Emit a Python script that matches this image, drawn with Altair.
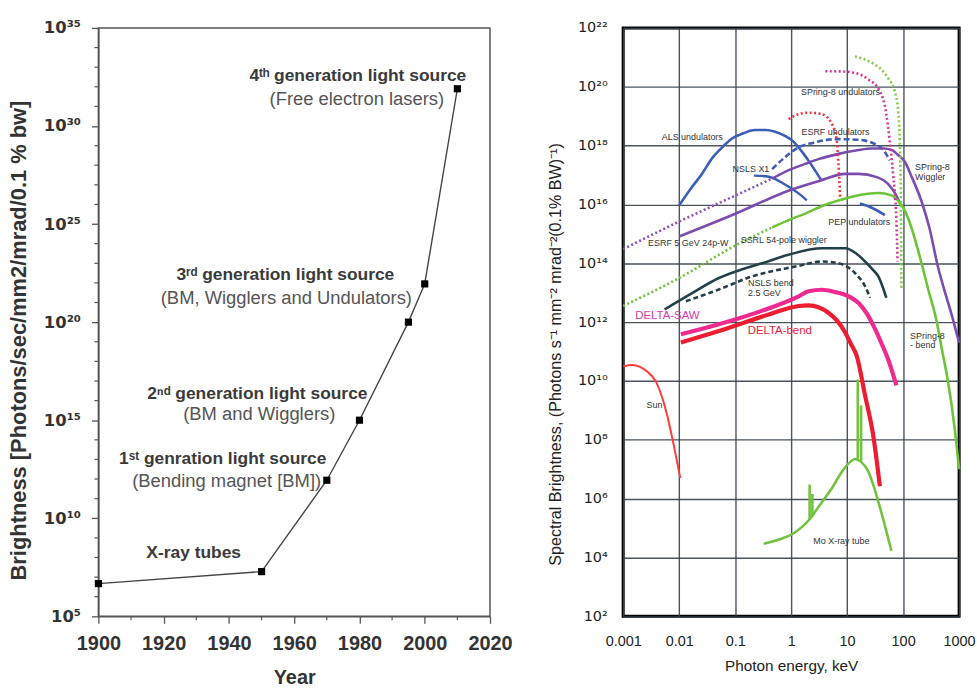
import math
import altair as alt
import pandas as pd

SUP = str.maketrans("0123456789-", "⁰¹²³⁴⁵⁶⁷⁸⁹⁻")

# ---------------- Left panel: brightness vs year ----------------
years = [1900, 1950, 1970, 1980, 1995, 2000, 2010]
brightness_log10 = [6.67, 7.28, 11.94, 15.0, 20.0, 21.95, 31.9]

left_x_ticks = [1900, 1920, 1940, 1960, 1980, 2000, 2020]
left_x_minor = [1910, 1930, 1950, 1970, 1990, 2010]
left_y_exps = [5, 10, 15, 20, 25, 30, 35]
left_y_minor_exps = [6, 7, 8, 9, 11, 12, 13, 14, 16, 17, 18, 19, 21, 22, 23, 24,
                     26, 27, 28, 29, 31, 32, 33, 34]

ann_text = ["4ᵗʰ generation light source", "(Free electron lasers)",
            "3ʳᵈ generation light source", "(BM, Wigglers and Undulators)",
            "2ⁿᵈ generation light source", "(BM and Wigglers)",
            "1ˢᵗ genration light source", "(Bending magnet [BM])",
            "X-ray tubes"]
ann_year = [1979.5, 1979.2, 1957.3, 1957.6, 1948.7, 1949.3, 1938.1, 1939.3, 1929.2]
ann_log10 = [32.57, 31.4, 22.38, 21.22, 16.35, 15.29, 13.0, 11.9, 8.24]
ann_bold = [True, False, True, False, True, False, True, False, True]

# ---------------- Right panel: spectral brightness ----------------
# (log10 photon energy [keV], log10 spectral brightness)
curves = {
    "ALS undulators": (
        [-2.0, -1.8, -1.6, -1.4, -1.2, -1.05, -0.85, -0.65, -0.45, -0.3, -0.1, 0.02, 0.2, 0.31, 0.54],
        [15.97, 16.52, 17.02, 17.6, 18.0, 18.25, 18.42, 18.53, 18.53, 18.48, 18.32, 18.17, 17.78, 17.49, 16.82]),
    "NSLS X1": (
        [-0.665, -0.45, -0.3, -0.15, 0.0, 0.15, 0.28],
        [16.98, 16.96, 16.88, 16.72, 16.55, 16.35, 16.14]),
    "Undulator dashed": (
        [-0.34, -0.1, 0.13, 0.4, 0.61, 0.85, 1.1, 1.32, 1.5, 1.65, 1.76],
        [17.2, 17.62, 17.94, 18.1, 18.19, 18.22, 18.21, 18.17, 18.05, 17.85, 17.5]),
    "PEP undulators": (
        [1.23, 1.45, 1.675],
        [16.03, 15.88, 15.64]),
    "SPring-8 wiggler (low E)": (
        [-3.0, -2.0, -1.0, -0.34],
        [14.48, 15.42, 16.3, 16.88]),
    "SPring-8 Wiggler": (
        [-0.34, 0.0, 0.25, 0.5, 0.85, 1.2, 1.44, 1.65, 1.8, 1.91, 2.03, 2.15, 2.33, 2.47, 2.62, 2.75, 2.86, 3.0],
        [16.88, 17.2, 17.38, 17.55, 17.72, 17.85, 17.9, 17.9, 17.85, 17.68, 17.45, 16.95, 16.1, 15.2, 13.9, 13.0, 12.3, 11.3]),
    "ESRF 5 GeV 24p-W": (
        [-2.0, -1.05, 0.0, 0.5, 0.97, 1.2, 1.53, 1.73, 1.85, 1.93],
        [14.91, 15.64, 16.5, 16.8, 17.04, 17.04, 16.93, 16.7, 16.4, 16.1]),
    "SPring-8 bend (low E)": (
        [-3.0, -2.0, -1.0, -0.34],
        [12.55, 13.5, 14.6, 15.22]),
    "SPring-8 bend": (
        [-0.34, 0.0, 0.25, 0.6, 0.97, 1.25, 1.55, 1.79, 1.92, 2.03, 2.15, 2.33, 2.45, 2.59, 2.7, 2.8, 2.92, 3.0],
        [15.22, 15.5, 15.69, 15.98, 16.2, 16.33, 16.39, 16.31, 16.1, 15.8, 15.2, 14.0, 13.1, 12.1, 11.0, 10.0, 8.4, 7.0]),
    "SPring-8 undulators (green)": (
        [1.14, 1.35, 1.5, 1.63, 1.73, 1.85, 1.91, 1.94, 1.96, 1.97],
        [21.03, 20.9, 20.75, 20.55, 20.3, 19.85, 19.2, 18.2, 16.0, 13.1]),
    "SPring-8 undulators": (
        [0.61, 0.9, 1.14, 1.38, 1.585, 1.7, 1.76, 1.82, 1.88, 1.9],
        [20.53, 20.52, 20.47, 20.25, 19.85, 19.07, 18.17, 17.04, 15.47, 14.06]),
    "ESRF undulators": (
        [-0.045, 0.1, 0.31, 0.55, 0.73, 0.815, 0.845, 0.875],
        [18.9, 19.05, 19.12, 19.07, 18.73, 18.17, 17.38, 16.26]),
    "SSRL 54-pole wiggler": (
        [-2.26, -1.8, -1.29, -0.9, -0.52, -0.05, 0.55, 0.97, 1.15, 1.32, 1.45, 1.555, 1.7],
        [12.43, 12.95, 13.5, 13.78, 14.0, 14.29, 14.51, 14.51, 14.35, 14.06, 13.8, 13.56, 12.83]),
    "NSLS bend 2.5 GeV": (
        [-1.88, -1.29, -0.69, 0.075, 0.55, 0.845, 1.14, 1.32, 1.41],
        [12.71, 13.11, 13.56, 13.89, 14.06, 14.0, 13.67, 13.22, 12.83]),
    "DELTA-SAW": (
        [-1.97, -1.29, -0.5, 0.135, 0.31, 0.55, 0.79, 1.0, 1.2, 1.35, 1.5, 1.62, 1.73, 1.88],
        [11.59, 11.93, 12.4, 12.88, 13.05, 13.1, 13.02, 12.9, 12.66, 12.3, 11.76, 11.25, 10.75, 9.85]),
    "DELTA-bend": (
        [-1.97, -1.29, -0.4, 0.135, 0.31, 0.5, 0.665, 0.82, 0.965, 1.07, 1.17, 1.32, 1.465, 1.585],
        [11.31, 11.7, 12.26, 12.55, 12.57, 12.5, 12.32, 12.05, 11.65, 11.25, 10.86, 9.51, 8.16, 6.42]),
    "Sun": (
        [-3.0, -2.83, -2.7, -2.59, -2.41, -2.3, -2.23, -2.085, -1.98],
        [10.5, 10.54, 10.48, 10.35, 9.96, 9.42, 8.95, 7.71, 6.7]),
    "Mo X-ray tube": (
        [-0.49, -0.2, 0.016, 0.2, 0.33, 0.5, 0.73, 0.9, 1.08, 1.14, 1.25, 1.38, 1.47, 1.555, 1.68, 1.79],
        [4.47, 4.62, 4.79, 5.05, 5.3, 5.75, 6.36, 6.9, 7.29, 7.35, 7.25, 6.92, 6.45, 5.91, 5.05, 4.23]),
}

# characteristic lines of the Mo tube (log10 E, log10 top, log10 bottom)
mo_line_log10E = [0.33, 0.38, 1.19, 1.25]
mo_line_top = [6.48, 6.16, 10.05, 9.17]
mo_line_bottom = [5.28, 5.4, 7.3, 7.28]

styles = {
    "ALS undulators": ("#3a5db5", 2.6, None),
    "NSLS X1": ("#3a5db5", 2.4, None),
    "Undulator dashed": ("#3a5db5", 2.6, [6, 3]),
    "PEP undulators": ("#3a5db5", 2.6, None),
    "SPring-8 wiggler (low E)": ("#8a4fc0", 2.6, [2, 2.5]),
    "SPring-8 Wiggler": ("#7b4cb0", 2.6, None),
    "ESRF 5 GeV 24p-W": ("#7b4cb0", 2.6, None),
    "SPring-8 bend (low E)": ("#6cc436", 2.6, [2, 2.5]),
    "SPring-8 bend": ("#6cc436", 2.6, None),
    "SPring-8 undulators (green)": ("#7ccc44", 2.6, [2, 2.5]),
    "SPring-8 undulators": ("#d8339c", 2.6, [2, 2.5]),
    "ESRF undulators": ("#f0323a", 2.6, [2, 2.5]),
    "SSRL 54-pole wiggler": ("#22404c", 2.6, None),
    "NSLS bend 2.5 GeV": ("#22404c", 2.6, [5, 3]),
    "DELTA-SAW": ("#ee2a8e", 4.2, None),
    "DELTA-bend": ("#ee1c30", 4.2, None),
    "Sun": ("#ff3b3b", 2.0, None),
    "Mo X-ray tube": ("#72c240", 2.6, None),
}

rlab_text = ["ALS undulators", "NSLS X1", "ESRF undulators", "SPring-8 undulators",
             "SPring-8", "Wiggler", "PEP undulators", "ESRF 5 GeV 24p-W",
             "SSRL 54-pole wiggler", "NSLS bend", "2.5 GeV", "DELTA-SAW", "DELTA-bend",
             "SPring-8", "- bend", "Sun", "Mo  X-ray tube"]
rlab_log10E = [-1.766, -0.718, 0.792, 0.881, 2.213, 2.213, 1.218, -1.837,
               -0.132, -0.771, -0.771, -2.21, -0.203, 2.124, 2.124, -2.44, 0.897]
rlab_log10B = [18.29, 17.21, 18.46, 19.81, 17.28, 16.94, 15.42, 14.68,
               14.78, 13.33, 13.0, 12.22, 11.71, 11.54, 11.21, 9.18, 4.56]
rlab_align = ["center", "center", "center", "center", "left", "left", "center", "center",
              "center", "left", "left", "center", "center", "left", "left", "center", "center"]
rlab_color = ["#333"] * 11 + ["#d63ca6", "#ee2038"] + ["#333"] * 4
rlab_size = [9] * 11 + [11.5, 11.5] + [9] * 4

right_x_ticks = [0.001, 0.01, 0.1, 1, 10, 100, 1000]
right_x_labels = ["0.001", "0.01", "0.1", "1", "10", "100", "1000"]
right_y_exps = [2, 4, 6, 8, 10, 12, 14, 16, 18, 20, 22]


def sup_expr(exps):
    parts = [f"abs(log(datum.value)/LN10 - ({e})) < 0.01 ? '10{str(e).translate(SUP)}'" for e in exps]
    return " : ".join(parts) + " : ''"


def named_expr(vals, labels):
    parts = [f"abs(log(datum.value)/LN10 - ({math.log10(v):.3f})) < 0.01 ? '{l}'"
             for v, l in zip(vals, labels)]
    return " : ".join(parts) + " : ''"


# ---------------- build left panel ----------------
LW, LH = 394, 592
xL = alt.X("year:Q", scale=alt.Scale(domain=[1900, 2020], nice=False, zero=False),
           axis=alt.Axis(values=left_x_ticks, format="d", title="Year", grid=False,
                         labelOverlap=False, labelFlush=False,
                         labelFontSize=20, labelFontWeight="bold", labelColor="#333",
                         titleFontSize=20, titleFontWeight="bold", titleColor="#333",
                         tickSize=7, tickColor="#555", tickWidth=1.3, domainColor="#555",
                         domainWidth=1.5, labelPadding=10, titlePadding=15))
yL = alt.Y("B:Q", scale=alt.Scale(type="log", domain=[1e5, 1e35], nice=False),
           axis=alt.Axis(values=[10.0 ** e for e in left_y_exps], labelExpr=sup_expr(left_y_exps),
                         title="Brightness [Photons/sec/mm2/mrad/0.1 % bw]", grid=False,
                         labelOverlap=False, labelFlush=False, labelFont="DejaVu Sans",
                         labelFontSize=16.5, labelFontWeight="bold", labelColor="#333",
                         titleFontSize=22, titleFontWeight="bold", titleColor="#333",
                         titleY=314,
                         tickSize=7, tickColor="#555", tickWidth=1.3, domainColor="#555",
                         domainWidth=1.5, labelPadding=11, titlePadding=13))

left_df = pd.DataFrame({"year": years, "B": [10.0 ** v for v in brightness_log10]})
left_layers = [
    alt.Chart(left_df).mark_line(color="#444", strokeWidth=1.4).encode(x=xL, y=yL),
    alt.Chart(left_df).mark_square(size=52, color="black", opacity=1).encode(x=xL, y=yL),
    alt.Chart(pd.DataFrame({"B": [10.0 ** e for e in left_y_minor_exps]})).mark_rule(
        color="#555", strokeWidth=1.2).encode(y=yL, x=alt.value(0), x2=alt.value(-4)),
    alt.Chart(pd.DataFrame({"year": left_x_minor})).mark_rule(
        color="#555", strokeWidth=1.2).encode(x=xL, y=alt.value(LH), y2=alt.value(LH + 4)),
]
for t, yr, lg, b in zip(ann_text, ann_year, ann_log10, ann_bold):
    d = pd.DataFrame({"year": [yr], "B": [10.0 ** lg], "t": [t]})
    left_layers.append(
        alt.Chart(d).mark_text(fontSize=17.5 if b else 18.5, fontWeight="bold" if b else "normal",
                               color="#3a3a3a" if b else "#555", align="center", baseline="middle")
        .encode(x=xL, y=yL, text="t"))

left = alt.layer(*left_layers).properties(
    width=LW, height=LH, view=alt.ViewBackground(stroke="#555", strokeWidth=1.5))

# ---------------- build right panel ----------------
RW, RH = 338, 592
xR = alt.X("E:Q", scale=alt.Scale(type="log", domain=[1e-3, 1e3], nice=False),
           axis=alt.Axis(values=right_x_ticks, labelExpr=named_expr(right_x_ticks, right_x_labels),
                         title="Photon energy, keV", grid=True, gridColor="#36404c", gridWidth=1.4,
                         gridOpacity=0.9, domain=False, ticks=False, tickSize=0,
                         labelOverlap=False, labelFlush=False,
                         labelFontSize=14.5, labelColor="#222", titleFontSize=15.4,
                         titleFontWeight="normal", titleColor="#222", labelPadding=18,
                         titlePadding=11))
yR = alt.Y("B:Q", scale=alt.Scale(type="log", domain=[1e2, 1e22], nice=False),
           axis=alt.Axis(values=[10.0 ** e for e in right_y_exps], labelExpr=sup_expr(right_y_exps),
                         title="Spectral Brightness, (Photons s⁻¹ mm⁻² mrad⁻²(0.1% BW)⁻¹)",
                         grid=True, gridColor="#36404c", gridWidth=1.4, gridOpacity=0.9,
                         domain=False, ticks=False, tickSize=0,
                         labelOverlap=False, labelFlush=False, labelFont="DejaVu Sans",
                         labelFontSize=14.5, labelColor="#222", titleFontSize=16.2,
                         titleFontWeight="normal", titleColor="#222", labelPadding=16,
                         titleY=328, titlePadding=14))

right_layers = []
for name, (lx, ly) in curves.items():
    color, width, dash = styles[name]
    d = pd.DataFrame({"E": [10.0 ** v for v in lx], "B": [10.0 ** v for v in ly],
                      "i": list(range(len(lx)))})
    kw = dict(color=color, strokeWidth=width, interpolate="monotone")
    if dash:
        kw["strokeDash"] = dash
    right_layers.append(alt.Chart(d).mark_line(**kw).encode(x=xR, y=yR, order="i:Q"))

spk = pd.DataFrame({"E": [10.0 ** v for v in mo_line_log10E],
                    "B": [10.0 ** v for v in mo_line_top],
                    "B2": [10.0 ** v for v in mo_line_bottom]})
right_layers.append(alt.Chart(spk).mark_rule(color="#72c240", strokeWidth=2.6)
                    .encode(x=xR, y=yR, y2=alt.Y2("B2:Q")))

for t, lx, ly, al, c, s in zip(rlab_text, rlab_log10E, rlab_log10B, rlab_align, rlab_color, rlab_size):
    d = pd.DataFrame({"E": [10.0 ** lx], "B": [10.0 ** ly], "t": [t]})
    right_layers.append(alt.Chart(d).mark_text(fontSize=s, color=c, align=al, baseline="middle")
                        .encode(x=xR, y=yR, text="t"))

right = alt.layer(*right_layers).properties(
    width=RW, height=RH, view=alt.ViewBackground(stroke="black", strokeWidth=3))

chart = alt.hconcat(left, right, spacing=33).properties(
    padding={"left": 6, "top": 16, "right": 0, "bottom": 0}
).configure(font="Liberation Sans")

chart.save("out.html", embed_options={"renderer": "svg", "actions": False})
